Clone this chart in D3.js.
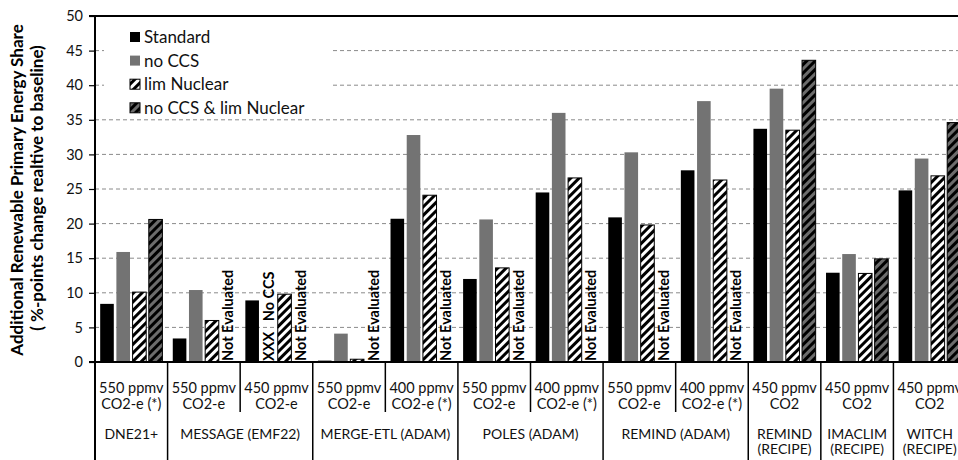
<!DOCTYPE html>
<html><head><meta charset="utf-8">
<script src="https://cdn.jsdelivr.net/npm/d3@7"></script>
<style>
html,body{margin:0;padding:0;background:#fff;}
svg{display:block;font-family:Lato,"Open Sans",sans-serif;}
</style></head>
<body><svg id="c" width="958" height="460"></svg>
<script>
// ---------- data ----------
const scenarioLine1 = ["550 ppmv","550 ppmv","450 ppmv","550 ppmv","400 ppmv","550 ppmv","400 ppmv","550 ppmv","400 ppmv","450 ppmv","450 ppmv","450 ppmv"];
const scenarioLine2 = ["CO2-e (*)","CO2-e","CO2-e","CO2-e","CO2-e (*)","CO2-e","CO2-e (*)","CO2-e","CO2-e (*)","CO2","CO2","CO2"];
const modelNames = [["DNE21+"],["MESSAGE (EMF22)"],["MERGE-ETL (ADAM)"],["POLES (ADAM)"],["REMIND (ADAM)"],["REMIND","(RECIPE)"],["IMACLIM","(RECIPE)"],["WITCH","(RECIPE)"]];
const modelSpans = [1,2,2,2,2,1,1,1];   // scenario columns per model
const seriesNames = ["Standard","no CCS","lim Nuclear","no CCS & lim Nuclear"];
const standard   = [8.4, 3.4, 8.9, 0.2, 20.7, 12.0, 24.5, 20.9, 27.7, 33.7, 12.9, 24.8];
const noCCS      = [15.9, 10.4, null, 4.1, 32.8, 20.6, 36.0, 30.3, 37.7, 39.5, 15.6, 29.4];
const limNuclear = [10.1, 6.0, 9.8, 0.4, 24.1, 13.6, 26.6, 19.8, 26.3, 33.5, 12.8, 26.9];
const noCCSlimNuc= [20.6, null, null, null, null, null, null, null, null, 43.6, 14.9, 34.6];
const notes = [
  {g:1,s:3,text:"Not Evaluated"},{g:2,s:1,text:"XXX   No CCS"},{g:2,s:3,text:"Not Evaluated"},
  {g:3,s:3,text:"Not Evaluated"},{g:4,s:3,text:"Not Evaluated"},{g:5,s:3,text:"Not Evaluated"},
  {g:6,s:3,text:"Not Evaluated"},{g:7,s:3,text:"Not Evaluated"},{g:8,s:3,text:"Not Evaluated"}
];
const yTicks = [0,5,10,15,20,25,30,35,40,45,50];
const yTitle1 = "Additional Renewable Primary Energy Share";
const yTitle2 = "( %-points change realtive to baseline)";

// ---------- drawing ----------
const svg = d3.select("#c");
const values = [standard, noCCS, limNuclear, noCCSlimNuc];
const L = 95, R = 966, T = 16, B = 362;

const defs = svg.append("defs");
function hatch(id, bg, stripe){
  const p = defs.append("pattern").attr("id",id).attr("patternUnits","userSpaceOnUse")
    .attr("width",6).attr("height",6).attr("patternTransform","rotate(45)");
  p.append("rect").attr("width",6).attr("height",6).attr("fill",bg);
  p.append("rect").attr("width",3).attr("height",6).attr("fill",stripe);
}
hatch("hw","#fff","#000");
hatch("hd","#6c6c6c","#000");
const fills = ["#000","#737373","url(#hw)","url(#hd)"];
const strokes = [null,null,"#000","#000"];

const x0 = d3.scaleBand().domain(d3.range(scenarioLine1.length)).range([L,R]);
const x1 = d3.scaleBand().domain(d3.range(seriesNames.length)).range([0,x0.bandwidth()])
  .paddingInner(0.16).paddingOuter(0.32);
const y = d3.scaleLinear().domain([0,50]).range([B,T]);

// grid
svg.append("g").selectAll("line").data(yTicks.filter(t=>t>0&&t<50)).join("line")
  .attr("x1",L).attr("x2",958).attr("y1",d=>y(d)).attr("y2",d=>y(d))
  .attr("stroke","#8a8a8a").attr("stroke-width",1).attr("stroke-dasharray","4,3");

// legend background (covers grid)
svg.append("rect").attr("x",104).attr("y",21).attr("width",229).attr("height",94).attr("fill","#fff");

// axis
const ax = svg.append("g").attr("transform",`translate(${L},0)`)
  .call(d3.axisLeft(y).tickValues(yTicks).tickSize(6).tickPadding(6).tickFormat(d3.format("d")));
ax.select(".domain").remove();
ax.selectAll(".tick line").attr("stroke","#000").attr("stroke-width",1.2);
ax.selectAll(".tick text").attr("font-size",14.5).attr("font-family","Lato").attr("fill","#111");

// bars
values.forEach((arr,s)=>{
  svg.append("g").selectAll("rect").data(arr.map((v,g)=>({v,g})).filter(d=>d.v!=null)).join("rect")
    .attr("x",d=>x0(d.g)+x1(s)).attr("width",x1.bandwidth())
    .attr("y",d=>y(d.v)).attr("height",d=>y(0)-y(d.v))
    .attr("fill",fills[s]).attr("stroke",strokes[s]).attr("stroke-width",strokes[s]?1:0);
});

// notes
svg.append("g").selectAll("text").data(notes).join("text")
  .attr("transform",d=>`translate(${x0(d.g)+x1(d.s)+x1.bandwidth()/2},${B-1}) rotate(-90)`)
  .attr("dy","0.36em").attr("font-size",14.5).attr("font-weight",700)
  .style("white-space","pre").text(d=>d.text);

// frame lines
svg.append("line").attr("x1",89).attr("x2",958).attr("y1",T).attr("y2",T).attr("stroke","#000").attr("stroke-width",2);
svg.append("line").attr("x1",L).attr("x2",L).attr("y1",T).attr("y2",460).attr("stroke","#000").attr("stroke-width",2);
svg.append("line").attr("x1",89).attr("x2",958).attr("y1",B).attr("y2",B).attr("stroke","#000").attr("stroke-width",2);

// table separators
const modelStarts = []; {let c=0; modelSpans.forEach(n=>{modelStarts.push(c); c+=n;});}
d3.range(1,scenarioLine1.length+1).forEach(i=>{
  const xx = i<scenarioLine1.length ? x0(i) : R;
  const full = modelStarts.includes(i) || i===scenarioLine1.length;
  svg.append("line").attr("x1",xx).attr("x2",xx).attr("y1",B).attr("y2",full?460:412)
    .attr("stroke","#000").attr("stroke-width",1.5);
});

// scenario labels
const sc = svg.append("g").attr("font-size",14).attr("text-anchor","middle").attr("fill","#111");
scenarioLine1.forEach((t,i)=>{
  const cx = x0(i)+x0.bandwidth()/2;
  sc.append("text").attr("x",cx).attr("y",393).attr("font-size",14.5).text(t);
  sc.append("text").attr("x",cx).attr("y",408.5).attr("font-size",14.5).text(scenarioLine2[i]);
});
// model labels
modelNames.forEach((lines,m)=>{
  const a = modelStarts[m], b = a+modelSpans[m];
  const cx = (x0(a) + (b<scenarioLine1.length?x0(b):R))/2;
  lines.forEach((t,k)=>sc.append("text").attr("x",cx).attr("y",438.5+k*15.5).text(t));
});

// legend
const lg = svg.append("g");
seriesNames.forEach((n,s)=>{
  const cy = 37 + s*23.6;
  lg.append("rect").attr("x",130).attr("y",cy-5).attr("width",10).attr("height",10)
    .attr("fill",fills[s]).attr("stroke",strokes[s]).attr("stroke-width",strokes[s]?1:0);
  lg.append("text").attr("x",144).attr("y",cy+6).attr("font-size",17).attr("fill","#111").text(n);
});

// y title
svg.append("text").attr("transform","translate(23,190) rotate(-90)").attr("text-anchor","middle")
  .attr("font-size",17).attr("font-weight",700).text(yTitle1);
svg.append("text").attr("transform","translate(43,188) rotate(-90)").attr("text-anchor","middle")
  .attr("font-size",17).attr("font-weight",700).text(yTitle2);
</script></body></html>
